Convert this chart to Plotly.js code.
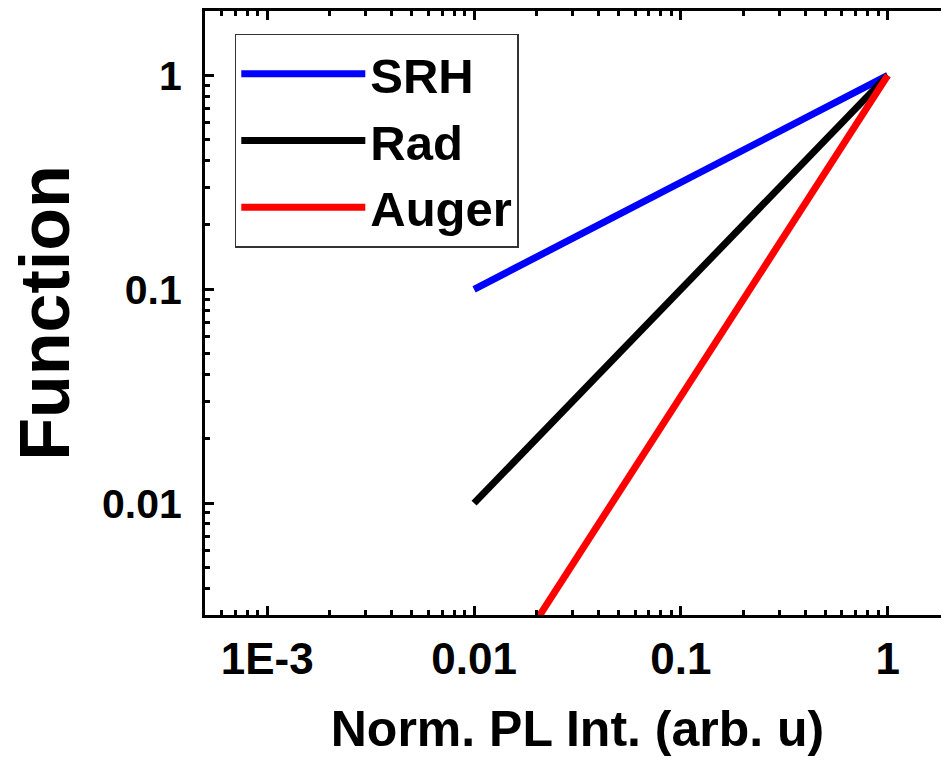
<!DOCTYPE html>
<html>
<head>
<meta charset="utf-8">
<script src="https://cdn.plot.ly/plotly-3.0.1.min.js"></script>
<style>
html,body{margin:0;padding:0;overflow:hidden;background:#fff;width:941px;height:761px;}
#chart{width:970px;height:761px;}
</style>
</head>
<body>
<div id="chart"></div>
<script>
// Data (log-log)
const seriesNames = ["SRH", "Rad", "Auger"];
const seriesColors = ["#0000ff", "#000000", "#ff0000"];
const xValues = [0.01, 1];
const srhY = [0.1, 1];
const radY = [0.01, 1];
const augerY = [0.001, 1];

const xTickVals = [0.001, 0.01, 0.1, 1];
const xTickText = ["1E-3", "0.01", "0.1", "1"];
const yTickVals = [0.01, 0.1, 1];
const yTickText = ["0.01", "0.1", "1"];

const xRange = [0.0005, 2];
const yRange = [0.003, 2];

const FONT = "Liberation Sans, Arial, Helvetica, sans-serif";
const ys = [srhY, radY, augerY];

const traces = ys.map((y, i) => ({
  x: xValues,
  y: y,
  type: "scatter",
  mode: "lines",
  name: seriesNames[i],
  line: {color: seriesColors[i], width: 7}
}));

const axisCommon = {
  type: "log",
  showgrid: false,
  zeroline: false,
  showline: true,
  linecolor: "#000",
  linewidth: 3,
  mirror: "ticks",
  ticks: "inside",
  ticklen: 9,
  tickwidth: 3,
  tickcolor: "#000",
  tickmode: "array",
  minor: {ticks: "inside", ticklen: 5, tickwidth: 3, tickcolor: "#000", dtick: "D1", showgrid: false},
  automargin: false
};

const layout = {
  width: 970,
  height: 761,
  margin: {l: 205, r: 20, t: 11, b: 146, pad: 0},
  paper_bgcolor: "#fff",
  plot_bgcolor: "#fff",
  showlegend: true,
  xaxis: Object.assign({}, axisCommon, {
    range: [Math.log10(xRange[0]), Math.log10(xRange[1])],
    tickvals: xTickVals,
    ticktext: xTickText,
    ticklabelstandoff: 3,
    tickfont: {family: FONT, size: 44, color: "#000", weight: "bold"},
    title: {text: "Norm. PL Int. (arb. u)", font: {family: FONT, size: 50, color: "#000", weight: "bold"}, standoff: 30}
  }),
  yaxis: Object.assign({}, axisCommon, {
    range: [Math.log10(yRange[0]), Math.log10(yRange[1])],
    tickvals: yTickVals,
    ticktext: yTickText,
    ticklabelstandoff: 12,
    tickfont: {family: FONT, size: 41, color: "#000", weight: "bold"},
    title: {text: "Function", font: {family: FONT, size: 70, color: "#000", weight: "bold"}, standoff: 10}
  }),
  legend: {
    x: 0.04, y: 0.962, xanchor: "left", yanchor: "top",
    bgcolor: "#fff",
    bordercolor: "#333",
    borderwidth: 1.5,
    font: {family: FONT, size: 49, color: "#000", weight: "bold"},
    itemwidth: 124,
    tracegroupgap: 0
  }
};

Plotly.newPlot("chart", traces, layout, {displayModeBar: false, staticPlot: true});
</script>
</body>
</html>
